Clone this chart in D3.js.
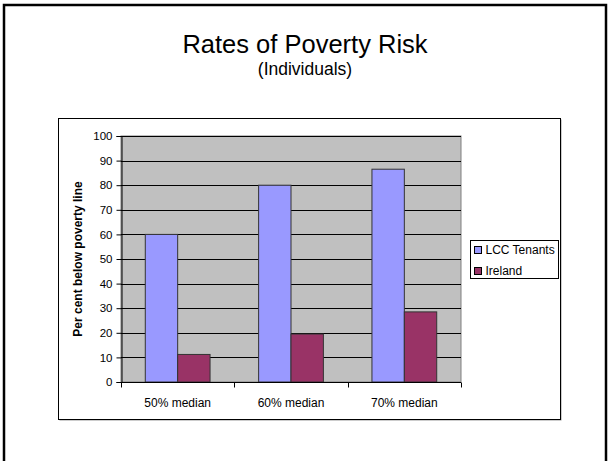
<!DOCTYPE html>
<html>
<head>
<meta charset="utf-8">
<script src="https://cdn.jsdelivr.net/npm/d3@7"></script>
<style>
  body { margin: 0; background: #fff; }
  text { font-family: "Liberation Sans", Arial, sans-serif; }
</style>
</head>
<body>
<svg id="chart" width="610" height="461"></svg>
<script>
// values
const categories = ['50% median', '60% median', '70% median'];
const seriesNames = ['LCC Tenants', 'Ireland'];
const lccTenants = [60, 80, 86.5];
const ireland = [11.2, 19.5, 28.5];
const yTicks = [0, 10, 20, 30, 40, 50, 60, 70, 80, 90, 100];
const colors = ['#9999ff', '#993366'];

const svg = d3.select('#chart');

// slide border
svg.append('rect')
  .attr('x', 4).attr('y', 5).attr('width', 602).attr('height', 480)
  .attr('fill', 'none').attr('stroke', '#000').attr('stroke-width', 2.5);

svg.append('text')
  .attr('x', 305).attr('y', 53)
  .attr('text-anchor', 'middle')
  .attr('font-size', 25.5)
  .text('Rates of Poverty Risk');
svg.append('text')
  .attr('x', 305).attr('y', 75)
  .attr('text-anchor', 'middle')
  .attr('font-size', 17.5)
  .text('(Individuals)');

// chart frame with a little shadow
svg.append('rect')
  .attr('x', 59.5).attr('y', 119.5).attr('width', 502).attr('height', 301)
  .attr('fill', '#999');
svg.append('rect')
  .attr('x', 58.5).attr('y', 118.5).attr('width', 502).attr('height', 301)
  .attr('fill', '#fff').attr('stroke', '#000');

const plot = { left: 121, right: 461, top: 136, bottom: 382 };

const x = d3.scaleBand().domain(categories).range([plot.left, plot.right]);
const xs = d3.scaleBand().domain(seriesNames).range([0, x.bandwidth()]).paddingInner(0).paddingOuter(0.75);
const y = d3.scaleLinear().domain([0, 100]).range([plot.bottom, plot.top]);

const g = svg.append('g');

g.append('rect')
  .attr('x', plot.left).attr('y', plot.top)
  .attr('width', plot.right - plot.left).attr('height', plot.bottom - plot.top)
  .attr('fill', '#c0c0c0').attr('stroke', '#808080');

// gridlines
g.selectAll('.grid')
  .data(yTicks.filter((d) => d > 0))
  .enter().append('line')
  .attr('class', 'grid')
  .attr('x1', plot.left).attr('x2', plot.right)
  .attr('y1', (d) => Math.round(y(d)) + 0.5).attr('y2', (d) => Math.round(y(d)) + 0.5)
  .attr('stroke', '#000').attr('stroke-width', 1);

// bars
const series = [lccTenants, ireland];
series.forEach((vals, si) => {
  g.selectAll('.bar' + si)
    .data(categories)
    .enter().append('rect')
    .attr('class', 'bar' + si)
    .attr('x', (c) => x(c) + xs(seriesNames[si]))
    .attr('width', xs.bandwidth())
    .attr('y', (c, i) => y(vals[i]))
    .attr('height', (c, i) => y(0) - y(vals[i]))
    .attr('fill', colors[si])
    .attr('stroke', '#333').attr('stroke-width', 1);
});

// y axis
const yAxis = d3.axisLeft(y).tickValues(yTicks).tickSize(5).tickPadding(4);
const ya = g.append('g')
  .attr('transform', `translate(${plot.left + 0.5},0)`)
  .call(yAxis);
ya.selectAll('text').attr('font-size', 11.5).attr('fill', '#000')
  .style('font-family', '"Liberation Sans", Arial, sans-serif');
ya.selectAll('line, path').attr('stroke', '#000');

// x axis: ticks at the category boundaries
const xa = g.append('g').attr('transform', `translate(0,${plot.bottom + 0.5})`);
xa.append('line')
  .attr('x1', plot.left).attr('x2', plot.right)
  .attr('stroke', '#000');
xa.selectAll('.xtick')
  .data(categories.concat(['end']))
  .enter().append('line')
  .attr('x1', (c, i) => Math.round(plot.left + i * x.step()) + 0.5)
  .attr('x2', (c, i) => Math.round(plot.left + i * x.step()) + 0.5)
  .attr('y1', 0).attr('y2', 5)
  .attr('stroke', '#000');
xa.selectAll('.xlabel')
  .data(categories)
  .enter().append('text')
  .attr('x', (c) => x(c) + x.bandwidth() / 2)
  .attr('y', 24)
  .attr('text-anchor', 'middle')
  .attr('font-size', 12)
  .text((c) => c);

// y axis title
svg.append('text')
  .attr('transform', `translate(82,${(plot.top + plot.bottom) / 2}) rotate(-90)`)
  .attr('text-anchor', 'middle')
  .attr('font-size', 12)
  .attr('font-weight', 'bold')
  .text('Per cent below poverty line');

// legend
const legend = svg.append('g').attr('transform', 'translate(470.5,240.5)');
legend.append('rect')
  .attr('width', 88).attr('height', 38)
  .attr('fill', '#fff').attr('stroke', '#000');
seriesNames.forEach((name, i) => {
  legend.append('rect')
    .attr('x', 4).attr('y', 6 + i * 21)
    .attr('width', 7).attr('height', 7)
    .attr('fill', colors[i]).attr('stroke', '#000');
  legend.append('text')
    .attr('x', 15).attr('y', 13.5 + i * 21)
    .attr('font-size', 12)
    .text(name);
});
</script>
</body>
</html>
